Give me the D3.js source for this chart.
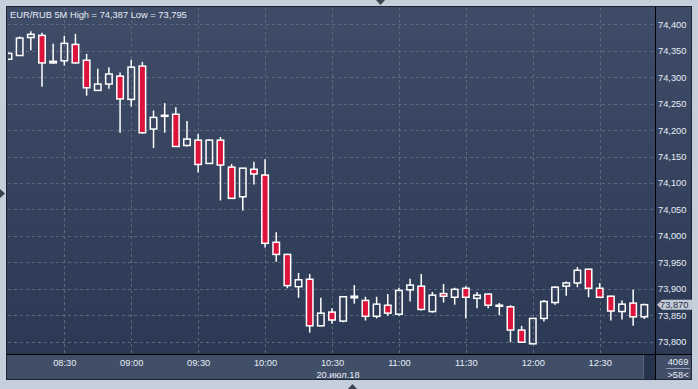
<!DOCTYPE html>
<html>
<head>
<meta charset="utf-8">
<script src="https://cdn.jsdelivr.net/npm/d3@7"></script>
<style>
  html, body { margin: 0; padding: 0; background: #c4cfdb; }
  svg { display: block; }
  text { font-family: "Liberation Sans", Arial, sans-serif; font-size: 9.3px; fill: #e6edf6; }
</style>
</head>
<body>
<svg id="chart"></svg>
<script>
// EUR/RUB 5 minute candles, 20 July 2018
const times = ["08:05","08:10","08:15","08:20","08:25","08:30","08:35","08:40","08:45","08:50",
  "08:55","09:00","09:05","09:10","09:15","09:20","09:25","09:30","09:35","09:40",
  "09:45","09:50","09:55","10:00","10:05","10:10","10:15","10:20","10:25","10:30",
  "10:35","10:40","10:45","10:50","10:55","11:00","11:05","11:10","11:15","11:20",
  "11:25","11:30","11:35","11:40","11:45","11:50","11:55","12:00","12:05","12:10",
  "12:15","12:20","12:25","12:30","12:35","12:40","12:45","12:50"];
const opens = [74.334,74.341,74.375,74.379,74.327,74.331,74.362,74.332,74.275,74.287,
  74.302,74.258,74.321,74.202,74.226,74.230,74.171,74.181,74.137,74.181,
  74.130,74.074,74.126,74.115,73.988,73.965,73.904,73.918,73.830,73.856,
  73.839,73.883,73.878,73.848,73.869,73.852,73.898,73.905,73.857,73.891,
  73.884,73.901,73.882,73.890,73.867,73.866,73.822,73.796,73.844,73.874,
  73.905,73.911,73.937,73.901,73.886,73.857,73.873,73.847];
const highs = [74.346,74.377,74.387,74.384,74.363,74.378,74.382,74.344,74.316,74.319,
  74.309,74.333,74.329,74.237,74.251,74.243,74.217,74.193,74.182,74.187,
  74.136,74.129,74.140,74.145,74.007,73.966,73.930,73.928,73.883,73.863,
  73.886,73.907,73.885,73.885,73.890,73.902,73.919,73.928,73.894,73.909,
  73.902,73.905,73.894,73.891,73.873,73.869,73.830,73.845,73.879,73.905,
  73.914,73.941,73.938,73.911,73.887,73.878,73.898,73.872];
const lows = [74.332,74.341,74.351,74.282,74.326,74.322,74.326,74.265,74.275,74.278,
  74.195,74.244,74.193,74.166,74.195,74.168,74.169,74.120,74.136,74.067,
  74.070,74.048,74.097,73.978,73.951,73.901,73.883,73.817,73.829,73.834,
  73.837,73.872,73.840,73.844,73.849,73.849,73.876,73.859,73.855,73.874,
  73.870,73.844,73.863,73.863,73.850,73.799,73.798,73.795,73.838,73.870,
  73.887,73.903,73.884,73.883,73.840,73.842,73.830,73.843];
const closes = [74.345,74.374,74.381,74.327,74.330,74.364,74.327,74.280,74.287,74.306,
  74.259,74.319,74.195,74.224,74.228,74.169,74.183,74.135,74.181,74.134,
  74.071,74.128,74.117,73.986,73.965,73.906,73.917,73.830,73.854,73.841,
  73.885,73.886,73.848,73.871,73.854,73.897,73.907,73.861,73.888,73.886,
  73.899,73.884,73.888,73.869,73.869,73.822,73.799,73.844,73.876,73.903,
  73.911,73.935,73.901,73.884,73.858,73.871,73.847,73.870];

const priceTicks = [73.80,73.85,73.90,73.95,74.00,74.05,74.10,74.15,74.20,74.25,74.30,74.35,74.40];
const timeTicks = ["08:30","09:00","09:30","10:00","10:30","11:00","11:30","12:00","12:30"];
const dateLabel = "20.июл.18";
const title = "EUR/RUB 5M High = 74,387 Low = 73,795";
const lastPrice = 73.870;

const W = 698, H = 389;
const PANEL = {left: 7, top: 7, right: 692, bottom: 380};
const PLOT = {left: 8, top: 8, right: 655, bottom: 354};

const parseT = d3.timeParse("%H:%M");
const candles = times.map((t, i) => ({
  t: parseT(t), o: opens[i], h: highs[i], l: lows[i], c: closes[i]
}));

const xScale = d3.scaleTime()
  .domain([parseT("08:30"), parseT("12:30")])
  .range([64.3, 599.7]);
const yScale = d3.scaleLinear()
  .domain([73.8, 74.4])
  .range([341.7, 24.3]);

const ru = d3.formatLocale({decimal: ",", thousands: " ", grouping: [3], currency: ["", ""]});
const fmtPrice = ru.format(".3f");

const svg = d3.select("#chart").attr("width", W).attr("height", H);

const defs = svg.append("defs");
const grad = defs.append("linearGradient")
  .attr("id", "bg").attr("x1", 0).attr("y1", 0).attr("x2", 0).attr("y2", 1);
grad.append("stop").attr("offset", 0).attr("stop-color", "#3f4c68");
grad.append("stop").attr("offset", 1).attr("stop-color", "#2b3954");
defs.append("clipPath").attr("id", "plotclip")
  .append("rect")
  .attr("x", PLOT.left).attr("y", PLOT.top)
  .attr("width", PLOT.right - PLOT.left).attr("height", PLOT.bottom - PLOT.top);

// frame
svg.append("rect").attr("width", W).attr("height", H).attr("fill", "#c4cfdb");
svg.append("rect")
  .attr("x", PANEL.left).attr("y", PANEL.top)
  .attr("width", PANEL.right - PANEL.left).attr("height", PLOT.bottom - PANEL.top)
  .attr("fill", "url(#bg)");
svg.append("rect")
  .attr("x", PANEL.left).attr("y", PLOT.bottom)
  .attr("width", PANEL.right - PANEL.left).attr("height", PANEL.bottom - PLOT.bottom)
  .attr("fill", "#404e67");
// scroll block in the corner of the time axis
svg.append("rect")
  .attr("x", 644).attr("y", PLOT.bottom).attr("width", PLOT.right - 644).attr("height", PANEL.bottom - PLOT.bottom)
  .attr("fill", "#26334c");
svg.append("line")
  .attr("x1", 643.5).attr("x2", 643.5).attr("y1", PLOT.bottom).attr("y2", PANEL.bottom)
  .attr("stroke", "#56657e");
svg.append("rect")
  .attr("x", PANEL.left - 0.5).attr("y", PANEL.top - 0.5)
  .attr("width", PANEL.right - PANEL.left).attr("height", PANEL.bottom - PANEL.top)
  .attr("fill", "none").attr("stroke", "#1d2433");

// grid lines
const grid = svg.append("g").attr("stroke", "#5a6882").attr("stroke-dasharray", "3,3");
grid.selectAll(".hg")
  .data(priceTicks)
  .enter().append("line")
  .attr("x1", PLOT.left).attr("x2", PLOT.right)
  .attr("y1", d => Math.round(yScale(d)) + 0.5).attr("y2", d => Math.round(yScale(d)) + 0.5);
grid.selectAll(".vg")
  .data(timeTicks)
  .enter().append("line")
  .attr("y1", PLOT.top).attr("y2", PLOT.bottom)
  .attr("x1", d => Math.round(xScale(parseT(d))) + 0.5).attr("x2", d => Math.round(xScale(parseT(d))) + 0.5);

// candles
const bw = 6.5;
const plot = svg.append("g").attr("clip-path", "url(#plotclip)");
const cg = plot.selectAll(".candle")
  .data(candles)
  .enter().append("g")
  .attr("class", "candle");
cg.append("line")
  .attr("x1", d => xScale(d.t)).attr("x2", d => xScale(d.t))
  .attr("y1", d => yScale(d.h)).attr("y2", d => yScale(Math.max(d.o, d.c)))
  .attr("stroke", "#fff").attr("stroke-width", 1.5);
cg.append("line")
  .attr("x1", d => xScale(d.t)).attr("x2", d => xScale(d.t))
  .attr("y1", d => yScale(Math.min(d.o, d.c))).attr("y2", d => yScale(d.l))
  .attr("stroke", "#fff").attr("stroke-width", 1.5);
cg.append("rect")
  .attr("x", d => xScale(d.t) - bw / 2)
  .attr("width", bw)
  .attr("y", d => yScale(Math.max(d.o, d.c)))
  .attr("height", d => Math.max(1, yScale(Math.min(d.o, d.c)) - yScale(Math.max(d.o, d.c))))
  .attr("fill", d => d.c < d.o ? "#dc143c" : "none")
  .attr("stroke", "#fff").attr("stroke-width", 1.5);

// price axis
const yAxis = svg.append("g")
  .attr("transform", `translate(${PLOT.right}, 0)`)
  .call(d3.axisRight(yScale).tickValues(priceTicks).tickFormat(fmtPrice).tickSize(0).tickPadding(3));
yAxis.select(".domain").remove();
yAxis.selectAll("text").attr("fill", "#e6edf6").attr("font-size", "9.3px")
  .attr("font-family", "Liberation Sans, Arial, sans-serif");

// time axis
const xAxis = svg.append("g")
  .attr("transform", `translate(0, ${PLOT.bottom})`)
  .call(d3.axisBottom(xScale).tickValues(timeTicks.map(parseT)).tickFormat(d3.timeFormat("%H:%M")).tickSize(0).tickPadding(5));
xAxis.select(".domain").remove();
xAxis.selectAll("text").attr("fill", "#e6edf6").attr("font-size", "9.3px")
  .attr("font-family", "Liberation Sans, Arial, sans-serif");

svg.append("text")
  .attr("x", xScale(parseT("10:30")) + 6).attr("y", 377.5)
  .attr("text-anchor", "middle")
  .text(dateLabel);

// axis separators
svg.append("line").attr("x1", PLOT.right + 0.5).attr("x2", PLOT.right + 0.5)
  .attr("y1", PANEL.top).attr("y2", PANEL.bottom).attr("stroke", "#000");
svg.append("line").attr("x1", PANEL.left).attr("x2", PANEL.right)
  .attr("y1", PLOT.bottom + 0.5).attr("y2", PLOT.bottom + 0.5).attr("stroke", "#000");

// last price marker
const ly = yScale(lastPrice);
svg.append("path")
  .attr("d", `M657,${ly} L662,${ly - 5} L${PANEL.right},${ly - 5} L${PANEL.right},${ly + 5} L662,${ly + 5} Z`)
  .attr("fill", "#c3cad4");
svg.append("text")
  .attr("x", 660).attr("y", ly + 3.3)
  .style("fill", "#24324a")
  .text(fmtPrice(lastPrice));

// corner counters
svg.append("text").attr("x", 678).attr("y", 365).attr("text-anchor", "middle").text("4069");
svg.append("line").attr("x1", 666).attr("x2", 690).attr("y1", 368.5).attr("y2", 368.5).attr("stroke", "#8e9ab0");
svg.append("text").attr("x", 678).attr("y", 377.5).attr("text-anchor", "middle").text(">58<");

// title
svg.append("text").attr("x", 10).attr("y", 18.3).text(title);

// small pointers on the frame
svg.append("path").attr("d", "M376,0 L385,0 L380.5,5 Z").attr("fill", "#3a4150");
svg.append("path").attr("d", "M0,189 L5,193.5 L0,198 Z").attr("fill", "#3a4150");
svg.append("path").attr("d", "M348,389 L357,389 L352.5,384 Z").attr("fill", "#3a4150");
</script>
</body>
</html>
